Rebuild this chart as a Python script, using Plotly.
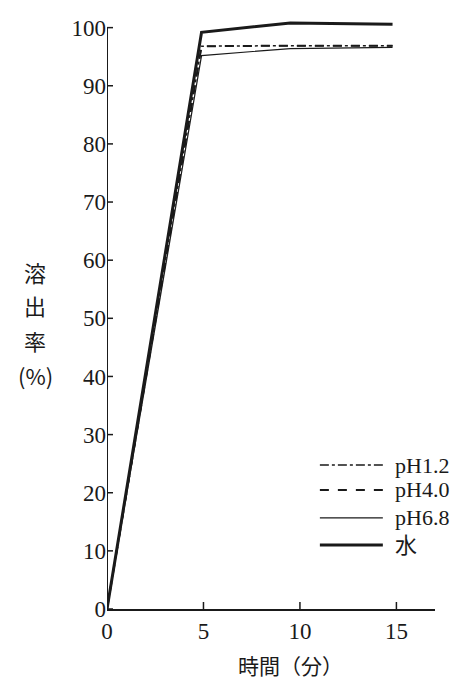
import plotly.graph_objects as go

# Data
time_x = [0, 4.9, 9.5, 14.8]
series_names = ["pH1.2", "pH4.0", "pH6.8", "水"]
ph12 = [0, 96.8, 96.9, 96.9]
ph40 = [0, 96.8, 96.9, 96.9]
ph68 = [0, 95.2, 96.4, 96.6]
water = [0, 99.2, 100.8, 100.6]
x_ticks = [0, 5, 10, 15]
y_ticks = [0, 10, 20, 30, 40, 50, 60, 70, 80, 90, 100]
y_title_chars = ["溶", "出", "率", "(%)"]

styles = [
    dict(width=1.5, dash="dashdot"),
    dict(width=2, dash="dash"),
    dict(width=1.2, dash="solid"),
    dict(width=3, dash="solid"),
]
values = [ph12, ph40, ph68, water]
col = "#1a1a1a"

fig = go.Figure()
for name, vals, st in zip(series_names, values, styles):
    fig.add_trace(go.Scatter(x=time_x, y=vals, mode="lines", name=name,
                             line=dict(color=col, width=st["width"], dash=st["dash"]),
                             showlegend=False))

# Manual legend (paper coordinates)
leg_y = [0.2428, 0.2007, 0.1535, 0.1079]
for name, st, yy in zip(series_names, styles, leg_y):
    fig.add_shape(type="line", xref="paper", yref="paper", x0=0.649, x1=0.841, y0=yy, y1=yy,
                  line=dict(color=col, width=st["width"], dash=st["dash"]))
    fig.add_annotation(xref="paper", yref="paper", x=0.872, y=yy, text=name, showarrow=False,
                       xanchor="left", yanchor="middle",
                       font=dict(family="Liberation Serif, Noto Sans CJK JP", size=22, color=col))

# Y axis line only up to 100
fig.add_shape(type="line", xref="x", yref="y", x0=0, x1=0, y0=0, y1=100,
              line=dict(color=col, width=2))

# Inside tick marks
for t in y_ticks:
    fig.add_shape(type="line", xref="x", yref="y", xsizemode="pixel", xanchor=0,
                  x0=0, x1=6, y0=t, y1=t, line=dict(color=col, width=1.5))
for t in x_ticks[1:]:
    fig.add_shape(type="line", xref="x", yref="y", ysizemode="pixel", yanchor=0,
                  x0=t, x1=t, y0=0, y1=7, line=dict(color=col, width=1.5))

# Axis titles
title_y = [0.5683, 0.5126, 0.4536, 0.3946]
for ch, yy in zip(y_title_chars, title_y):
    fig.add_annotation(xref="paper", yref="paper", x=-0.2195, y=yy, text=ch,
                       showarrow=False, xanchor="center", yanchor="middle",
                       font=dict(family="Noto Sans CJK JP", size=22, color=col))
fig.add_annotation(xref="paper", yref="paper", x=0.558, y=-0.0944, text="時間（分）",
                   showarrow=False, xanchor="center", yanchor="middle",
                   font=dict(family="Noto Sans CJK JP", size=21, color=col))

fig.update_xaxes(range=[0, 17], tickvals=x_ticks, ticks="", showline=True, linecolor=col,
                 linewidth=2, showgrid=False, zeroline=False, automargin=False,
                 tickfont=dict(family="Liberation Serif", size=23, color=col))
fig.update_yaxes(range=[0, 102], tickvals=y_ticks, ticks="", showline=False,
                 showgrid=False, zeroline=False, automargin=False,
                 tickfont=dict(family="Liberation Serif", size=23, color=col))

fig.update_layout(width=452, height=682, margin=dict(l=107, r=17, t=16, b=73),
                  plot_bgcolor="white", paper_bgcolor="white", showlegend=False)

fig.write_html("out.html", config={"displayModeBar": False},
               post_script="document.body.style.margin='0';document.body.style.overflow='hidden';")
